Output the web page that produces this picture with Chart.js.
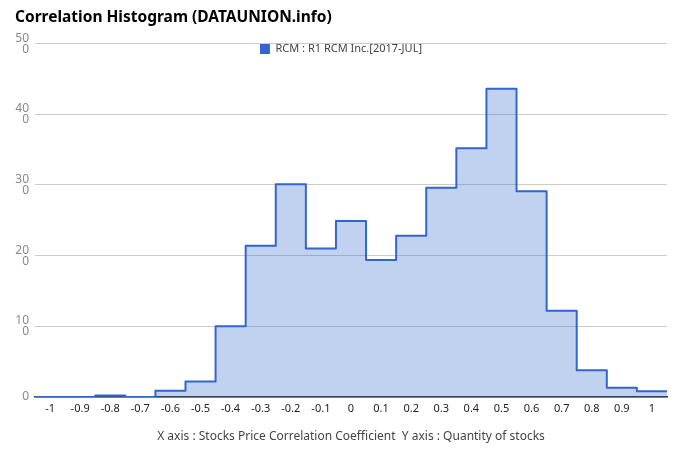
<!DOCTYPE html>
<html>
<head>
<meta charset="utf-8">
<script src="https://cdn.jsdelivr.net/npm/chart.js@4/dist/chart.umd.min.js"></script>
<style>
  html, body { margin: 0; padding: 0; background: #fff; }
  #wrap { width: 680px; height: 462px; }
</style>
</head>
<body>
<div id="wrap"><canvas id="chart" width="680" height="462"></canvas></div>
<script>
// bin centres (correlation coefficient) and stock counts per bin
const bins = [-1, -0.9, -0.8, -0.7, -0.6, -0.5, -0.4, -0.3, -0.2, -0.1, 0, 0.1, 0.2, 0.3, 0.4, 0.5, 0.6, 0.7, 0.8, 0.9, 1];
const counts = [0, 0, 2, 0, 9, 22, 100, 214, 301, 210, 249, 194, 228, 296, 352, 436, 291, 122, 38, 13, 8];
const yTicks = [0, 100, 200, 300, 400, 500];
const binWidth = 0.1;

const seriesLabel = 'RCM : R1 RCM Inc.[2017-JUL]';
const chartTitle = 'Correlation Histogram (DATAUNION.info)';
const axisText = 'X axis : Stocks Price Correlation Coefficient  Y axis : Quantity of stocks';

// each bin drawn as a step starting at its left edge, closed at the right edge of the last bin
const points = bins.map((b, i) => ({ x: b - binWidth / 2, y: counts[i] }));
points.push({ x: bins[bins.length - 1] + binWidth / 2, y: counts[counts.length - 1] });

const FONT = "'Noto Sans', 'Open Sans', sans-serif";

// legend sits on top of the plot, so it should take no room in the layout
const flatLegend = {
    id: 'flatLegend',
    beforeLayout: function(chart) {
        const lg = chart.legend;
        if (lg && !lg._flat) {
            const fit = lg.fit.bind(lg);
            lg.fit = function() { fit(); this._realHeight = this.height; this.height = 0; };
            lg._flat = true;
        }
    },
    afterLayout: function(chart) {
        const lg = chart.legend;
        if (lg && lg._realHeight) {
            lg.height = lg._realHeight;
            lg.bottom = lg.top + lg._realHeight;
        }
    }
};

new Chart(document.getElementById('chart'), {
    type: 'line',
    data: {
        datasets: [{
            label: seriesLabel,
            data: points,
            stepped: 'before',
            borderColor: '#3366cc',
            borderWidth: 2,
            borderJoinStyle: 'round',
            backgroundColor: 'rgba(51,102,204,0.3)',
            fill: 'origin',
            pointRadius: 0,
            pointHoverRadius: 0
        }]
    },
    plugins: [flatLegend],
    options: {
        responsive: false,
        animation: false,
        layout: { padding: { left: 15, right: 13, top: 0, bottom: 0 } },
        plugins: {
            title: {
                display: true,
                text: chartTitle,
                align: 'start',
                color: '#000',
                font: { family: FONT, size: 15.5, weight: 'bold' },
                padding: { top: 8, bottom: 17 }
            },
            legend: {
                position: 'top',
                align: 'center',
                labels: {
                    boxWidth: 10,
                    boxHeight: 10,
                    padding: 0,
                    color: '#444',
                    font: { family: FONT, size: 11 },
                    generateLabels: function(chart) {
                        const items = Chart.defaults.plugins.legend.labels.generateLabels(chart);
                        items.forEach(it => { it.fillStyle = '#3366cc'; it.strokeStyle = '#3366cc'; it.lineWidth = 0; });
                        return items;
                    }
                }
            },
            tooltip: { enabled: false }
        },
        scales: {
            x: {
                type: 'linear',
                min: bins[0] - binWidth / 2,
                max: bins[bins.length - 1] + binWidth / 2,
                afterBuildTicks: function(scale) {
                    scale.ticks = bins.map(v => ({ value: v }));
                },
                afterFit: function(scale) { scale.height = 65; },
                grid: { display: false, drawTicks: false },
                border: { display: true, color: '#333', width: 1.5 },
                ticks: {
                    color: '#222',
                    padding: 5,
                    maxRotation: 0,
                    autoSkip: false,
                    font: { family: FONT, size: 11 },
                    callback: function(v, i) { return String(bins[i]); }
                },
                title: {
                    display: true,
                    text: axisText,
                    color: '#444',
                    font: { family: FONT, size: 12 },
                    padding: { top: 0, bottom: 18 }
                }
            },
            y: {
                min: 0,
                max: 500,
                afterBuildTicks: function(scale) {
                    scale.ticks = yTicks.map(v => ({ value: v }));
                },
                afterFit: function(scale) { scale.width = 20; },
                grid: {
                    drawTicks: false,
                    color: '#cccccc',
                    lineWidth: 1
                },
                border: { display: false },
                ticks: {
                    color: '#888',
                    padding: 6,
                    font: { family: FONT, size: 12, lineHeight: '11px' },
                    callback: function(v) {
                        const s = String(v);
                        return s.length > 2 ? [s.slice(0, 2), s.slice(2)] : s;
                    }
                }
            }
        }
    }
});
</script>
</body>
</html>
